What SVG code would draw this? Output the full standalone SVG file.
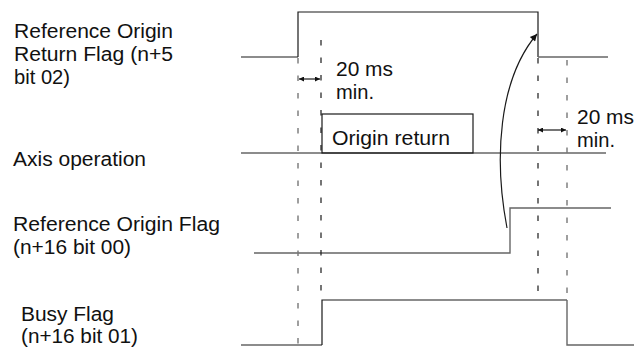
<svg xmlns="http://www.w3.org/2000/svg" width="636" height="358" viewBox="0 0 636 358">
<style>
.t{font-family:"Liberation Sans",Arial,sans-serif;font-size:19.5px;fill:#111}
.k{fill:none;stroke:#1a1a1a;stroke-width:1.2}
.g{fill:none;stroke:#666;stroke-width:1.4}
.dk{fill:none;stroke:#1a1a1a;stroke-width:1.2;stroke-dasharray:5.5 12}
.dg{fill:none;stroke:#777;stroke-width:1.4;stroke-dasharray:5.5 12}
</style>
<defs>
<marker id="ah" viewBox="0 0 10 10" refX="10" refY="5" markerWidth="9" markerHeight="7" markerUnits="userSpaceOnUse" orient="auto"><path d="M0,0 L10,5 L0,10 Z" fill="#111"/></marker>
<marker id="sh" viewBox="0 0 10 10" refX="10" refY="5" markerWidth="6" markerHeight="5" markerUnits="userSpaceOnUse" orient="auto-start-reverse"><path d="M0,0 L10,5 L0,10 Z" fill="#111"/></marker>
</defs>
<g id="labels">
<text class="t" x="14" y="37.5" textLength="159" lengthAdjust="spacingAndGlyphs">Reference Origin</text>
<text class="t" x="14" y="61" textLength="159" lengthAdjust="spacingAndGlyphs">Return Flag (n+5</text>
<text class="t" x="14" y="84" textLength="56" lengthAdjust="spacingAndGlyphs">bit 02)</text>
<text class="t" x="13" y="166" textLength="133" lengthAdjust="spacingAndGlyphs">Axis operation</text>
<text class="t" x="13" y="231" textLength="207" lengthAdjust="spacingAndGlyphs">Reference Origin Flag</text>
<text class="t" x="13" y="254" textLength="118" lengthAdjust="spacingAndGlyphs">(n+16 bit 00)</text>
<text class="t" x="21" y="320.5" textLength="93" lengthAdjust="spacingAndGlyphs">Busy Flag</text>
<text class="t" x="21" y="343" textLength="117" lengthAdjust="spacingAndGlyphs">(n+16 bit 01)</text>
</g>
<g id="sig-return-flag">
<path class="g" d="M241,57 H298"/>
<path class="k" d="M298,57 V12 H538 V57"/>
<path class="g" d="M538,57 H608"/>
</g>
<g id="sig-axis">
<path class="k" d="M241,153 H606"/>
<rect class="k" x="322" y="114" width="151" height="39"/>
<text class="t" x="332" y="145" textLength="118" lengthAdjust="spacingAndGlyphs">Origin return</text>
</g>
<g id="sig-origin-flag">
<path class="g" d="M254,253 H510 V208 H611"/>
</g>
<g id="sig-busy">
<path class="g" d="M241,345 H322"/>
<path class="k" d="M322,345 V300 H567"/>
<path class="g" d="M567,300 V345 H634"/>
</g>
<g id="connectors">
<path class="dg" d="M298,58 V347"/>
<path class="dk" d="M321,40 V300"/>
<path class="dk" d="M538,58 V300"/>
<path class="dg" d="M567,60 V300"/>
<path class="k" d="M299,79 H320" marker-start="url(#sh)" marker-end="url(#sh)"/>
<path class="k" d="M538,130 H566" marker-start="url(#sh)" marker-end="url(#sh)"/>
<path class="k" d="M507,228 C494,160 498,80 537,34" marker-end="url(#ah)"/>
</g>
<g id="notes">
<text class="t" x="336" y="76" textLength="57" lengthAdjust="spacingAndGlyphs">20 ms</text>
<text class="t" x="336" y="99" textLength="38" lengthAdjust="spacingAndGlyphs">min.</text>
<text class="t" x="577" y="123.5" textLength="57" lengthAdjust="spacingAndGlyphs">20 ms</text>
<text class="t" x="577" y="146.5" textLength="38" lengthAdjust="spacingAndGlyphs">min.</text>
</g>
</svg>
